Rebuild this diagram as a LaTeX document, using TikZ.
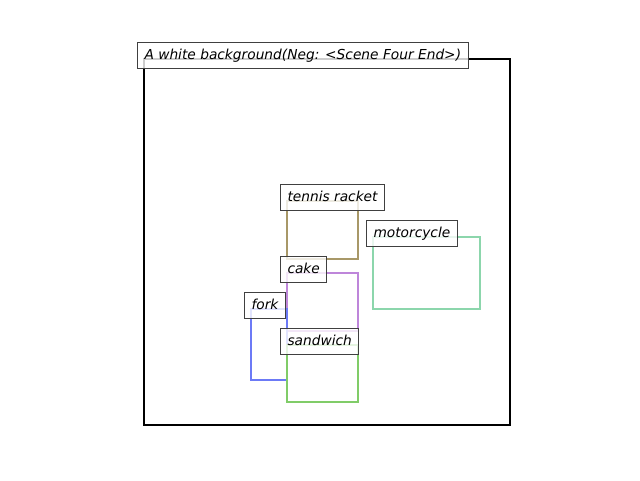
\documentclass[tikz,border=0pt]{standalone}
\usepackage{fontspec}
\usepackage{xcolor}
\usepackage{tikz}
\usetikzlibrary{positioning,calc}
\newfontfamily\labelfont{DejaVu Sans}
\definecolor{RacketOlive}{RGB}{168,152,104}
\definecolor{MotoGreen}{RGB}{140,214,172}
\definecolor{CakePurple}{RGB}{190,134,218}
\definecolor{ForkBlue}{RGB}{108,122,246}
\definecolor{SandGreen}{RGB}{128,204,104}
\definecolor{TagGray}{RGB}{64,64,64}
\tikzset{
    framebox/.style={draw=black, line width=2.2pt},
    objbox/.style={line width=2.2pt},
    tagnode/.style={draw=TagGray, line width=1pt, fill=white, fill opacity=0.8, text opacity=1,
        anchor=base west, inner xsep=7pt, inner ysep=6pt, text height=11pt, text depth=3pt,
        font=\labelfont\itshape\fontsize{13.75}{16}\selectfont}
}
\begin{document}
\begin{tikzpicture}[x=1pt, y=-1pt]
    \useasboundingbox (0,0) rectangle (640,480);
    % 1. KHUNG NỀN
    \draw[framebox] (144,59) coordinate (bgtl) rectangle (510,425);

    % 2. CÁC HỘP ĐỐI TƯỢNG
    \draw[objbox, RacketOlive] (287,201) coordinate (racket) rectangle (358,259);
    \draw[objbox, MotoGreen] (373,237) coordinate (moto) rectangle (480,309);
    \draw[objbox, CakePurple] (287,273) coordinate (cake) rectangle (358,331);
    \draw[objbox, ForkBlue] (251,309) coordinate (fork) rectangle (287,380);
    \draw[objbox, SandGreen] (287,345) coordinate (sandwich) rectangle (358,402);

    % 3. NHÃN
    \node[tagnode] (bglabel) at ($(bgtl)+(-7,0)$) {A white background(Neg: <Scene Four End>)};
    \node[tagnode] (racketlabel) at ($(racket)+(-7,0)$) {tennis racket};
    \node[tagnode] (motolabel) at ($(moto)+(-7,0)$) {motorcycle};
    \node[tagnode] (cakelabel) at ($(cake)+(-7,0)$) {cake};
    \node[tagnode] (forklabel) at ($(fork)+(-7,0)$) {fork};
    \node[tagnode] (sandwichlabel) at ($(sandwich)+(-7,0)$) {sandwich};
\end{tikzpicture}
\end{document}
